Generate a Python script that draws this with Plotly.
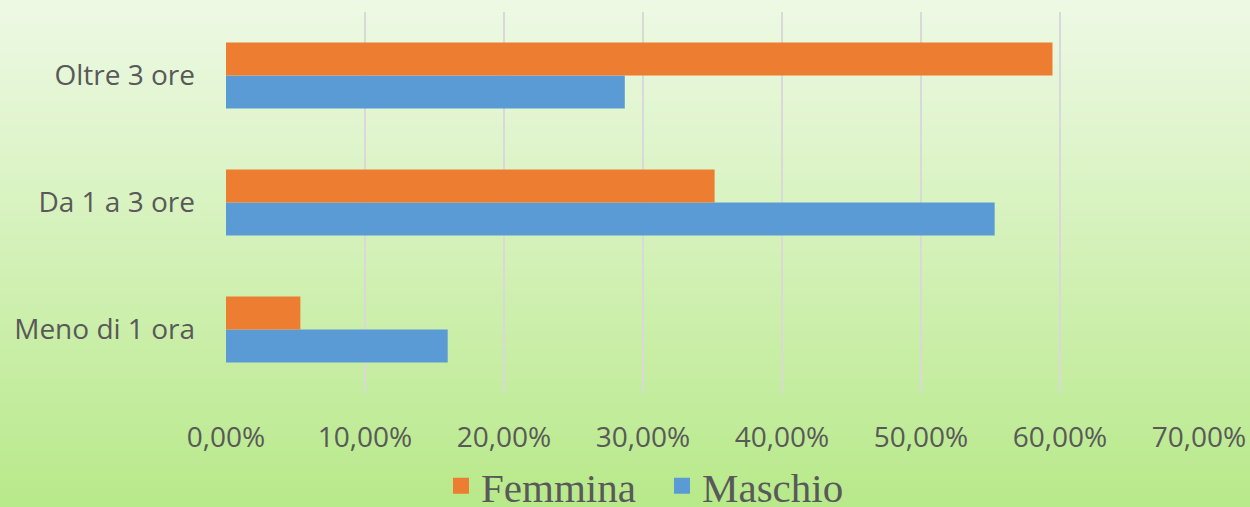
import plotly.graph_objects as go

categories = ["Meno di 1 ora", "Da 1 a 3 ore", "Oltre 3 ore"]
femmina = [0.0535, 0.3515, 0.5946]
maschio = [0.1595, 0.5530, 0.2869]
tick_vals = [0, 0.1, 0.2, 0.3, 0.4, 0.5, 0.6, 0.7]
tick_text = ["0,00%", "10,00%", "20,00%", "30,00%", "40,00%", "50,00%", "60,00%", "70,00%"]

ORANGE = "#ED7D31"
BLUE = "#5B9BD5"
TXT = "#595959"

fig = go.Figure()
fig.add_trace(go.Bar(y=categories, x=maschio, orientation="h", name="Maschio",
                     marker=dict(color=BLUE, line=dict(width=0)), showlegend=False))
fig.add_trace(go.Bar(y=categories, x=femmina, orientation="h", name="Femmina",
                     marker=dict(color=ORANGE, line=dict(width=0)), showlegend=False))
# legend proxies
fig.add_trace(go.Scatter(x=[None], y=[None], mode="markers", name="Femmina",
                         marker=dict(symbol="square", size=20, color=ORANGE)))
fig.add_trace(go.Scatter(x=[None], y=[None], mode="markers", name="Maschio",
                         marker=dict(symbol="square", size=20, color=BLUE)))

W, H = 1250, 507
ml, mr, mt, mb = 226, 51, 12, 114
pw = W - ml - mr
ph = H - mt - mb

# background gradient (full figure, paper coords)
top = (238, 249, 229)
bot = (184, 233, 138)
n = 120
shapes = []
for i in range(n):
    t = i / (n - 1)
    c = tuple(round(top[k] + (bot[k] - top[k]) * t) for k in range(3))
    py1 = i * H / n
    py0 = (i + 1) * H / n
    y1 = (H - mb - py1) / ph
    y0 = (H - mb - py0) / ph
    shapes.append(dict(type="rect", xref="paper", yref="paper", x0=-ml / pw - 0.01, x1=1 + mr / pw + 0.01,
                       y0=y0 - 0.004, y1=y1 + 0.004, fillcolor="rgb(%d,%d,%d)" % c,
                       line=dict(width=0), layer="below"))

fig.update_layout(
    width=W, height=H,
    margin=dict(l=ml, r=mr, t=mt, b=mb, pad=0, autoexpand=False),
    paper_bgcolor="rgb(211,242,190)",
    plot_bgcolor="rgba(0,0,0,0)",
    barmode="group",
    bargap=0.48,
    bargroupgap=0,
    shapes=shapes,
    font=dict(family="Open Sans", color=TXT, size=28),
    xaxis=dict(range=[0, 0.7], tickvals=tick_vals, ticktext=tick_text,
               showgrid=True, gridcolor="#d9d9d9", gridwidth=1.5,
               zeroline=False, showline=False, ticks="",
               tickfont=dict(family="Open Sans", size=28, color=TXT),
               ticklabelstandoff=25, fixedrange=True),
    yaxis=dict(categoryorder="array", categoryarray=categories,
               showgrid=False, zeroline=False, showline=False, ticks="",
               tickfont=dict(family="Open Sans", size=28, color=TXT),
               ticklabelstandoff=30, fixedrange=True),
    legend=dict(orientation="h", x=(451 - 10 - ml) / pw, xanchor="left",
                y=(H - mb - 486) / ph, yanchor="middle",
                font=dict(family="Liberation Serif", size=41, color=TXT),
                bgcolor="rgba(0,0,0,0)", itemwidth=30, traceorder="normal",
                entrywidth=176, entrywidthmode="pixels"),
    showlegend=True,
)

fig.write_html("out.html", config={"displayModeBar": False},
               post_script="document.body.style.margin='0';document.body.style.overflow='hidden';")
